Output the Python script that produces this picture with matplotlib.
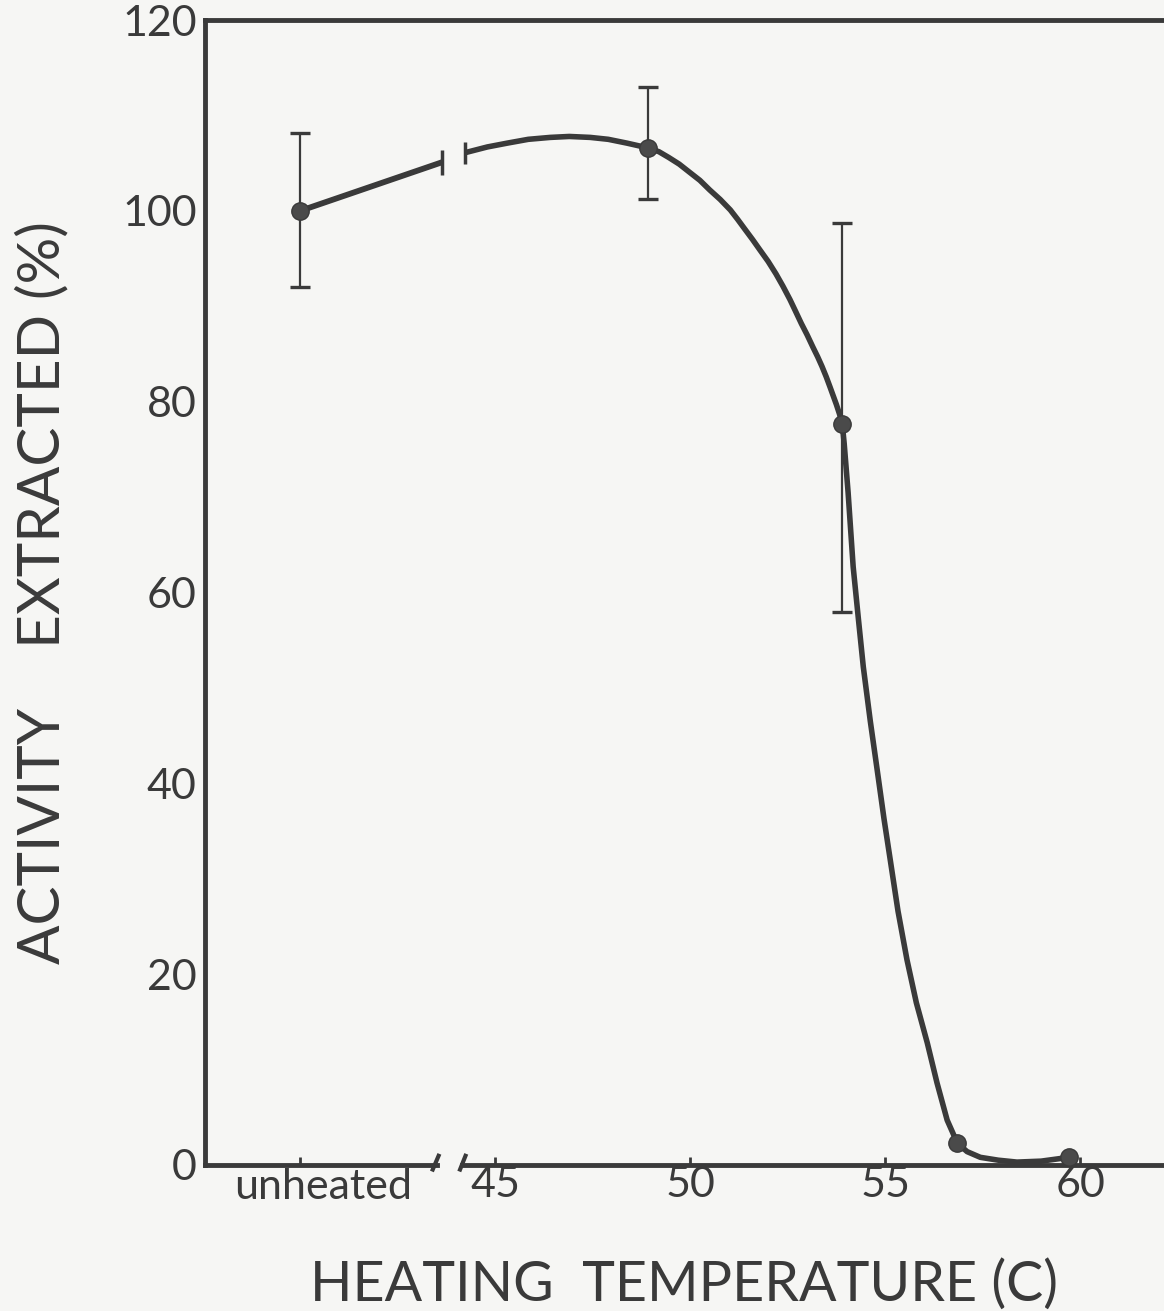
import matplotlib
matplotlib.use("Agg")
import matplotlib.pyplot as plt
import matplotlib.transforms as mtransforms

plt.rcParams['font.family'] = ['Lato', 'DejaVu Sans']

# measured points (x = 40 stands for "unheated")
temp = [40, 48.92, 53.9, 56.85, 59.72]
activity = [100, 106.6, 77.7, 2.3, 0.8]
err_low = [92, 101.2, 58, None, None]
err_high = [108.2, 113, 98.7, None, None]

# hand-drawn curve (two pieces, broken at the axis break)
curve1_x = [40, 43.64]
curve1_y = [100, 105.1]
curve2_x = [44.23, 44.8, 45.31, 45.85, 46.41, 46.9, 47.44, 47.9, 48.38, 48.92,
            49.2, 49.45, 49.72, 50.0, 50.25, 50.5, 50.77, 51.03, 51.22, 51.4,
            51.6, 51.79, 52.0, 52.2, 52.38, 52.56, 52.7, 52.85, 53.0, 53.15,
            53.27, 53.38, 53.49, 53.59, 53.67, 53.75, 53.83, 53.9, 53.95, 54.05,
            54.18, 54.31, 54.44, 54.62, 54.82, 54.97, 55.13, 55.33, 55.56, 55.8,
            56.08, 56.33, 56.59, 56.85, 57.1, 57.44, 57.9, 58.38, 59.0, 59.72]
curve2_y = [106.1, 106.7, 107.1, 107.5, 107.7, 107.8, 107.7, 107.5, 107.1, 106.6,
            106.2, 105.6, 104.9, 104.0, 103.2, 102.2, 101.2, 100.1, 99.1, 98.1,
            97.0, 95.9, 94.7, 93.4, 92.1, 90.7, 89.5, 88.2, 87.0, 85.7,
            84.7, 83.7, 82.6, 81.5, 80.6, 79.7, 78.7, 77.7, 75.6, 70.5,
            62.7, 57.4, 52.2, 46.5, 40.7, 36.3, 32.0, 26.6, 21.5, 17.0,
            12.8, 8.6, 4.7, 2.3, 1.4, 0.8, 0.5, 0.3, 0.4, 0.8]

xtick_vals = [45, 50, 55, 60]
xtick_labels = ["45", "50", "55", "60"]
ytick_vals = [0, 20, 40, 60, 80, 100, 120]

ink = "#3a3a3a"
paper = "#f6f6f4"

fig = plt.figure(figsize=(11.64, 13.11), dpi=100, facecolor=paper)
ax = fig.add_axes([0.1761, 0.1114, 1 - 0.1761, 0.8733])
ax.set_facecolor(paper)
ax.set_xlim(37.56, 62.15)
ax.set_ylim(0, 120)

# curve
ax.plot(curve1_x, curve1_y, color=ink, lw=4.2, solid_capstyle='butt')
ax.plot(curve2_x, curve2_y, color=ink, lw=4.0, solid_joinstyle='round',
        solid_capstyle='butt')
# break bars on the curve
ax.plot(curve1_x[-1:], curve1_y[-1:], marker='|', ms=18, mew=2.5, color=ink)
ax.plot(curve2_x[:1], curve2_y[:1], marker='|', ms=16, mew=2.5, color=ink)

# error bars
for x, lo, hi, y in zip(temp, err_low, err_high, activity):
    if lo is None:
        continue
    ax.errorbar([x], [y], yerr=[[y - lo], [hi - y]], fmt='none', ecolor=ink,
                elinewidth=1.6, capsize=7, capthick=2.4)

ax.plot(temp, activity, 'o', ms=12.5, color="#4a4a4a", mec=ink, mew=1, zorder=5)

# spines
for s in ['right', 'bottom']:
    ax.spines[s].set_visible(False)
for s in ['top', 'left']:
    ax.spines[s].set_linewidth(3.5)
    ax.spines[s].set_color(ink)

# broken x axis drawn by hand
trans = mtransforms.blended_transform_factory(ax.transData, ax.transAxes)
ax.plot([37.56, 43.5], [0, 0], color=ink, lw=3.5, transform=trans, clip_on=False)
ax.plot([44.15, 62.15], [0, 0], color=ink, lw=3.5, transform=trans, clip_on=False)
ax.plot([43.4, 43.55], [-0.004, 0.008], color=ink, lw=3, transform=trans, clip_on=False)
ax.plot([44.1, 44.24], [-0.004, 0.008], color=ink, lw=3, transform=trans, clip_on=False)

ax.set_xticks([40] + xtick_vals)
ax.set_xticklabels([""] + xtick_labels)
ax.text(40.6, -0.003, "unheated", transform=trans, ha='center', va='top',
        fontsize=31, color=ink)
ax.tick_params(axis='x', direction='in', length=6, width=2, color=ink,
               labelsize=31, labelcolor=ink, pad=1)
ax.set_yticks(ytick_vals)
ax.tick_params(axis='y', length=0, labelsize=31, labelcolor=ink, pad=6)

ax.set_xlabel("HEATING  TEMPERATURE (C)", fontsize=40, color=ink, labelpad=39)
ax.set_ylabel("ACTIVITY    EXTRACTED (%)", fontsize=42, color=ink, labelpad=38)

fig.savefig("out.png", dpi=100, facecolor=paper)
